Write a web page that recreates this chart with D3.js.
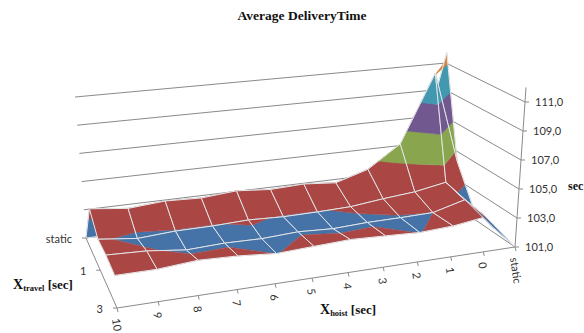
<!DOCTYPE html>
<html>
<head>
<meta charset="utf-8">
<script src="https://cdn.jsdelivr.net/npm/d3@7"></script>
<style>
    body { margin: 0; background: #fff; }
    svg { display: block; }
    .tick-label { font-family: Lato, "Open Sans", sans-serif; font-size: 11px; fill: #333; }
    .title { font-family: "Liberation Serif", serif; font-weight: bold; fill: #111; }
</style>
</head>
<body>
<div id="chart"></div>
<script>
// left to right along the hoist axis
const hoist = ["10", "9", "8", "7", "6", "5", "4", "3", "2", "1", "0", "static"];
const travel = ["static", "0", "1", "2", "3"];
const travelShown = ["static", "1", "3"];
const zTicks = [101, 103, 105, 107, 109, 111];
const zLabels = ["101,0", "103,0", "105,0", "107,0", "109,0", "111,0"];
const zTop = 112;

const rowStatic = [101, 101, 101, 101, 101, 101, 101, 101, 101, 101, 101, 111.8];
const row0 = [104.1, 103.8, 104, 103.9, 104.1, 103.9, 104, 103.8, 104.5, 106.1, 111.1, 104.3];
const row1 = [103.1, 102.8, 102.96, 102.97, 103.06, 102.96, 102.98, 103.04, 103.3, 103.5, 103.9, 101.7];
const row2 = [103.2, 103.1, 102.8, 102.9, 102.85, 102.97, 102.85, 102.95, 102.96, 103, 103.6, 101.3];
const row3 = [103.1, 103.1, 103.3, 103.2, 102.99, 103.1, 103.2, 103.1, 102.99, 103.1, 103.4, 101];
const values = [rowStatic, row0, row1, row2, row3];

// bands of the surface, one colour per two seconds
const bandLevels = [101, 103, 105, 107, 109, 111, 113];
const bandColors = ["#4572a7", "#aa4643", "#89a54e", "#71588f", "#4198af", "#db843d"];

const width = 584, height = 333;

const svg = d3.select("#chart").append("svg")
    .attr("width", width)
    .attr("height", height);

const u = d3.scalePoint().domain(hoist).range([0, 1]);
const v = d3.scalePoint().domain(travel).range([0, 1]);
const h = d3.scaleLinear().domain([101, 111]).range([0, 1]);

// box corners on screen: back left, back right, front right, front left
const floorQuad = [[86, 238], [436, 193], [515, 247], [117, 308]];
const topQuad = [[75, 97], [446, 63], [525, 102], [106, 153]];

function quadMap(q) {
    let [p0, p1, p2, p3] = q;
    let dx1 = p1[0] - p2[0], dx2 = p3[0] - p2[0], sx = p0[0] - p1[0] + p2[0] - p3[0];
    let dy1 = p1[1] - p2[1], dy2 = p3[1] - p2[1], sy = p0[1] - p1[1] + p2[1] - p3[1];
    let den = dx1 * dy2 - dx2 * dy1;
    let g = (sx * dy2 - dx2 * sy) / den;
    let k = (dx1 * sy - sx * dy1) / den;
    return function (a, b) {
        let w = g * a + k * b + 1;
        return [
            ((p1[0] - p0[0] + g * p1[0]) * a + (p3[0] - p0[0] + k * p3[0]) * b + p0[0]) / w,
            ((p1[1] - p0[1] + g * p1[1]) * a + (p3[1] - p0[1] + k * p3[1]) * b + p0[1]) / w
        ];
    };
}

const floorMap = quadMap(floorQuad);
const topMap = quadMap(topQuad);

function project(a, b, z) {
    let p0 = floorMap(a, b), p1 = topMap(a, b), t = h(z);
    return [p0[0] + (p1[0] - p0[0]) * t, p0[1] + (p1[1] - p0[1]) * t];
}

const line = d3.line();
const gridColor = "#8a8a8a";

function segment(parent, a, b, color, w) {
    parent.append("path")
        .attr("d", line([a, b]))
        .attr("fill", "none")
        .attr("stroke", color)
        .attr("stroke-width", w);
}

// walls
const walls = svg.append("g");
zTicks.forEach(z => {
    segment(walls, project(0, 0, z), project(1, 0, z), gridColor, 1);
    segment(walls, project(1, 0, z), project(1, 1, z), gridColor, 1);
});

// clip a polygon of {a, b, z} points to one side of a z level
function clipLevel(poly, level, keepAbove) {
    let out = [];
    poly.forEach((p, i) => {
        let q = poly[(i + 1) % poly.length];
        let pIn = keepAbove ? p.z >= level : p.z <= level;
        let qIn = keepAbove ? q.z >= level : q.z <= level;
        if (pIn) out.push(p);
        if (pIn !== qIn) {
            let t = (level - p.z) / (q.z - p.z);
            out.push({a: p.a + (q.a - p.a) * t, b: p.b + (q.b - p.b) * t, z: level});
        }
    });
    return out;
}

// surface, back rows first
const surface = svg.append("g");
d3.range(travel.length - 1).forEach(j => {
    d3.range(hoist.length - 1).forEach(i => {
        let corner = (ci, cj) => ({a: u(hoist[ci]), b: v(travel[cj]), z: values[cj][ci]});
        let quad = [corner(i, j), corner(i + 1, j), corner(i + 1, j + 1), corner(i, j + 1)];

        bandColors.forEach((color, k) => {
            let poly = clipLevel(clipLevel(quad, bandLevels[k], true), bandLevels[k + 1], false);
            if (poly.length < 3) return;
            surface.append("path")
                .attr("d", line(poly.map(p => project(p.a, p.b, p.z))) + "Z")
                .attr("fill", color)
                .attr("stroke", color)
                .attr("stroke-width", 0.4);
        });

        surface.append("path")
            .attr("d", line(quad.map(p => project(p.a, p.b, p.z))) + "Z")
            .attr("fill", "none")
            .attr("stroke", "#e4e7ea")
            .attr("stroke-width", 1);
    });
});

// axes on the floor
const axes = svg.append("g");
segment(axes, project(0, 0, 101), project(0, 1, 101), gridColor, 1);
segment(axes, project(0, 1, 101), project(1, 1, 101), gridColor, 1);
segment(axes, project(1, 1, 101), project(1, 1, zTop), gridColor, 1);

hoist.forEach(d => {
    let p = project(u(d), 1, 101);
    segment(axes, p, [p[0] + 1, p[1] + 4], gridColor, 1);
    axes.append("text")
        .attr("class", "tick-label")
        .attr("transform", `translate(${p[0] - 5}, ${p[1] + 11}) rotate(82)`)
        .text(d);
});

travelShown.forEach(d => {
    let p = project(0, v(d), 101);
    segment(axes, p, [p[0] - 4, p[1]], gridColor, 1);
    axes.append("text")
        .attr("class", "tick-label")
        .attr("text-anchor", "end")
        .attr("x", p[0] - 14)
        .attr("y", p[1] + 5)
        .text(d);
});

zTicks.forEach((z, i) => {
    let p = project(1, 1, z);
    segment(axes, p, [p[0] + 4, p[1]], gridColor, 1);
    axes.append("text")
        .attr("class", "tick-label")
        .attr("x", p[0] + 10)
        .attr("y", p[1] + 4)
        .text(zLabels[i]);
});

// titles
svg.append("text")
    .attr("class", "title")
    .attr("x", 302)
    .attr("y", 20)
    .attr("text-anchor", "middle")
    .attr("font-size", 13.5)
    .text("Average DeliveryTime");

function axisTitle(x, y, sub) {
    let t = svg.append("text")
        .attr("class", "title")
        .attr("x", x)
        .attr("y", y)
        .attr("font-size", 13);
    t.append("tspan").attr("font-size", 14).text("X");
    t.append("tspan").attr("font-size", 8.5).attr("dy", 2).text(sub);
    t.append("tspan").attr("dy", -2).text(" [sec]");
}
axisTitle(13, 289, "travel");
axisTitle(320, 314, "hoist");

svg.append("text")
    .attr("class", "title")
    .attr("x", 568)
    .attr("y", 190)
    .attr("font-size", 12)
    .text("sec");
</script>
</body>
</html>
